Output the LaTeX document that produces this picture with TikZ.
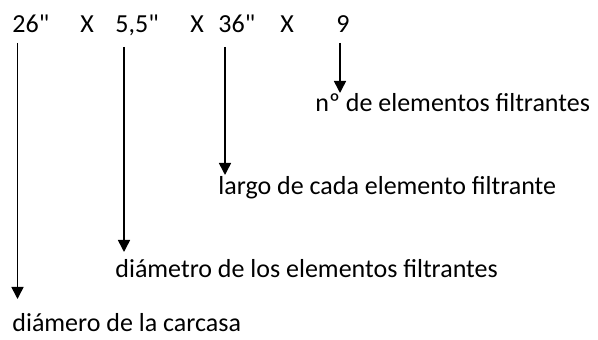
\documentclass[tikz,border=0pt]{standalone}
\usepackage{fontspec}
\setmainfont{Carlito}[Ligatures=TeXOff]
\usetikzlibrary{arrows.meta}

\begin{document}
\begin{tikzpicture}[x=0.5pt, y=-0.5pt,
    txt/.style={anchor=base west, inner sep=0pt, font=\fontsize{13}{15}\selectfont},
    arr/.style={-{Triangle[length=6pt, width=6pt]}, line width=0.8pt}
]
\useasboundingbox (0,0) rectangle (598,340);
% top row
\node[txt] (D)  at (12,33)  {26"};
\node[txt] (X1) at (80,33)  {X};
\node[txt] (E)  at (115,33) {5,5"};
\node[txt] (X2) at (190,33) {X};
\node[txt] (L)  at (218,33) {36"};
\node[txt] (X3) at (280,33) {X};
\node[txt] (N)  at (336,33) {9};
% labels
\node[txt] (Nl) at (315,112) {nº de elementos filtrantes};
\node[txt] (Ll) at (218,195) {largo de cada elemento filtrante};
\node[txt] (El) at (115,278) {diámetro de los elementos filtrantes};
\node[txt] (Dl) at (12,332)  {diámero de la carcasa};
% arrow ends
\coordinate (d0) at (17.5,43);  \coordinate (d1) at (17.5,299);
\coordinate (e0) at (124,47);   \coordinate (e1) at (124,252);
\coordinate (l0) at (225,47);   \coordinate (l1) at (225,175);
\coordinate (n0) at (340,43);   \coordinate (n1) at (340,93);

\draw[arr] (d0) -- (d1);
\draw[arr] (e0) -- (e1);
\draw[arr] (l0) -- (l1);
\draw[arr] (n0) -- (n1);
\end{tikzpicture}
\end{document}
